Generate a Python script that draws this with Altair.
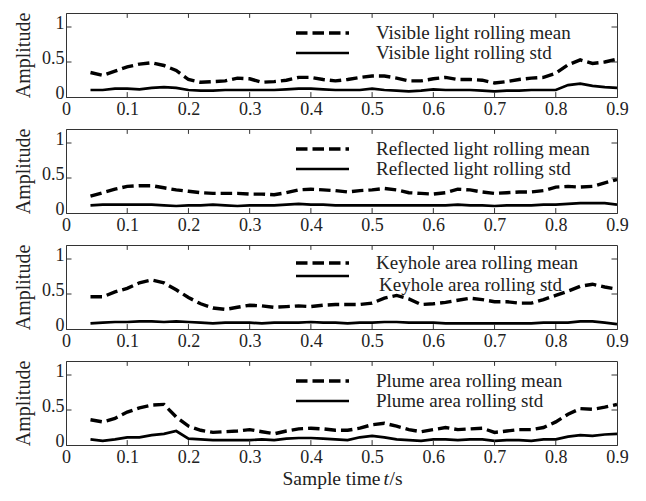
import altair as alt
import pandas as pd

# sample time grid (s)
t_vals = [0.04, 0.06, 0.08, 0.10, 0.12, 0.14, 0.16, 0.18, 0.20, 0.22, 0.24,
          0.26, 0.28, 0.30, 0.32, 0.34, 0.36, 0.38, 0.40, 0.42, 0.44, 0.46,
          0.48, 0.50, 0.52, 0.54, 0.56, 0.58, 0.60, 0.62, 0.64, 0.66, 0.68,
          0.70, 0.72, 0.74, 0.76, 0.78, 0.80, 0.82, 0.84, 0.86, 0.88, 0.90]

visible_mean = [.35, .31, .37, .43, .47, .49, .45, .38, .25, .21, .22, .23, .27, .26, .21,
                .22, .24, .28, .28, .25, .23, .25, .28, .30, .30, .27, .23, .23, .26, .28,
                .25, .25, .24, .20, .22, .25, .27, .28, .34, .46, .53, .48, .50, .54]
visible_std = [.10, .10, .12, .12, .11, .13, .14, .13, .10, .09, .09, .10, .10, .10, .10,
               .10, .11, .12, .12, .11, .10, .10, .10, .12, .10, .09, .08, .09, .11, .10,
               .10, .10, .09, .08, .09, .09, .10, .10, .10, .17, .19, .16, .14, .13]

reflected_mean = [.24, .29, .34, .38, .39, .39, .36, .33, .31, .29, .28, .28, .28, .27, .27,
                  .26, .29, .33, .34, .33, .32, .30, .32, .33, .35, .33, .29, .28, .27, .29,
                  .34, .33, .30, .28, .29, .30, .30, .32, .37, .38, .37, .38, .43, .48]
reflected_std = [.11, .12, .12, .12, .12, .12, .11, .10, .11, .11, .12, .11, .10, .11, .11,
                 .11, .12, .13, .12, .12, .11, .11, .11, .11, .11, .11, .11, .11, .11, .11,
                 .12, .11, .11, .10, .11, .11, .11, .12, .12, .13, .14, .14, .14, .12]

keyhole_mean = [.46, .46, .53, .58, .66, .70, .66, .56, .45, .36, .30, .28, .31, .34, .33,
                .31, .32, .33, .32, .34, .35, .35, .35, .37, .44, .48, .43, .35, .36, .38,
                .41, .44, .42, .39, .39, .37, .37, .42, .48, .54, .61, .64, .60, .57]
keyhole_std = [.08, .09, .10, .10, .11, .11, .10, .11, .10, .09, .08, .09, .09, .09, .08,
               .09, .09, .09, .10, .09, .09, .08, .09, .09, .10, .10, .09, .09, .09, .08,
               .08, .08, .08, .08, .08, .08, .08, .09, .09, .09, .11, .11, .09, .07]

plume_mean = [.36, .33, .38, .47, .53, .57, .58, .40, .27, .21, .18, .19, .20, .22, .19,
              .16, .20, .23, .24, .23, .21, .21, .24, .29, .31, .27, .22, .19, .22, .25,
              .22, .23, .24, .18, .20, .22, .22, .25, .33, .44, .52, .51, .54, .58]
plume_std = [.08, .06, .08, .11, .11, .14, .16, .20, .09, .08, .07, .07, .07, .07, .08,
             .07, .09, .10, .10, .09, .08, .07, .11, .13, .11, .08, .07, .06, .08, .08,
             .07, .08, .08, .06, .07, .07, .06, .08, .08, .12, .14, .13, .15, .16]

mean_labels = ["Visible light rolling mean", "Reflected light rolling mean",
               "Keyhole area rolling mean", "Plume area rolling mean"]
std_labels = ["Visible light rolling std", "Reflected  light rolling std",
              "Keyhole area rolling std", "Plume area rolling std"]
means = [visible_mean, reflected_mean, keyhole_mean, plume_mean]
stds = [visible_std, reflected_std, keyhole_std, plume_std]

x_ticks = [0, 0.1, 0.2, 0.3, 0.4, 0.5, 0.6, 0.7, 0.8, 0.9]
y_ticks = [0, 0.5, 1]

FONT = "Liberation Serif"
INK = "#222"
X_DOM = [0, 0.9]
Y_DOM = [0, 1.2]
W, H = 551, 84
DASH = [11.5, 5]
# legend row offsets (px from panel top): sample mean, sample std, text mean, text std
leg_rows = [(20, 40, 20, 40), (20, 40, 20, 40), (18, 31, 18, 40), (20, 40, 20, 40)]


def one(label):
    return pd.DataFrame({"label": [label]})


def panel(i, last):
    n = len(t_vals)
    df = pd.DataFrame({
        "t": t_vals + t_vals,
        "v": means[i] + stds[i],
        "s": ["mean"] * n + ["std"] * n,
    })
    xs = alt.Scale(domain=X_DOM, nice=False, zero=False)
    ys = alt.Scale(domain=Y_DOM, nice=False)
    x_axis = alt.Axis(values=x_ticks, format="~g", ticks=False, grid=False,
                      title=None, labelFlush=False, labelFontSize=18, labelPadding=3)
    y_axis = alt.Axis(values=y_ticks, format="~g", ticks=False, grid=False,
                      title="Amplitude", labelFontSize=18, titleFontSize=20,
                      titleFontWeight="normal", labelPadding=2, titlePadding=8,
                      labelOffset=-4)
    base = alt.Chart(df).encode(
        x=alt.X("t:Q", scale=xs, axis=x_axis),
        y=alt.Y("v:Q", scale=ys, axis=y_axis),
        order=alt.Order("t:Q"),
    )
    mean_line = base.transform_filter(alt.datum.s == "mean").mark_line(
        color="black", strokeWidth=3.4, strokeDash=DASH, clip=True)
    std_line = base.transform_filter(alt.datum.s == "std").mark_line(
        color="black", strokeWidth=2.7, clip=True)

    # inward tick marks (MATLAB style)
    inner = [v for v in x_ticks if 0 < v < 0.9]
    tx = pd.DataFrame({"x": inner * 2,
                       "y": [0.0] * len(inner) + [1.2] * len(inner),
                       "y2": [0.07] * len(inner) + [1.13] * len(inner)})
    ty_vals = [v for v in y_ticks if v > 0]
    ty = pd.DataFrame({"y": ty_vals * 2,
                       "x": [0.0] * len(ty_vals) + [0.9] * len(ty_vals),
                       "x2": [0.009] * len(ty_vals) + [0.891] * len(ty_vals)})
    xt = alt.Chart(tx).mark_rule(color="#333", strokeWidth=1).encode(
        x=alt.X("x:Q", scale=xs), y=alt.Y("y:Q", scale=ys), y2="y2:Q")
    yt = alt.Chart(ty).mark_rule(color="#333", strokeWidth=1).encode(
        x=alt.X("x:Q", scale=xs), x2="x2:Q", y=alt.Y("y:Q", scale=ys))

    # legend (drawn inside the axes box, like the original)
    r1, r2, tr1, tr2 = leg_rows[i]
    lx0, lx1, tx0 = 230, 283, 310
    leg_mean = alt.Chart(one(mean_labels[i])).mark_rule(
        color="black", strokeWidth=3.4, strokeDash=DASH).encode(
        x=alt.value(lx0), x2=alt.value(lx1), y=alt.value(r1))
    leg_std = alt.Chart(one(std_labels[i])).mark_rule(
        color="black", strokeWidth=2.7).encode(
        x=alt.value(lx0), x2=alt.value(lx1), y=alt.value(r2))
    txt_mean = alt.Chart(one(mean_labels[i])).mark_text(
        font=FONT, fontSize=19, align="left", baseline="middle", color=INK).encode(
        text="label:N", x=alt.value(tx0), y=alt.value(tr1))
    txt_std = alt.Chart(one(std_labels[i])).mark_text(
        font=FONT, fontSize=19, align="left", baseline="middle", color=INK).encode(
        text="label:N", x=alt.value(tx0 + (3 if i == 2 else 0)), y=alt.value(tr2))

    layers = [mean_line, std_line, xt, yt, leg_mean, leg_std, txt_mean, txt_std]
    if last:
        # x title: "Sample time t/s" with italic t
        ty0 = H + 34
        cx = W / 2 - 59
        layers += [
            alt.Chart(one("Sample time")).mark_text(
                font=FONT, fontSize=19.5, align="left", baseline="middle", color=INK).encode(
                text="label:N", x=alt.value(cx), y=alt.value(ty0)),
            alt.Chart(one("t")).mark_text(
                font=FONT, fontSize=19.5, fontStyle="italic", align="left",
                baseline="middle", color=INK).encode(
                text="label:N", x=alt.value(cx + 101), y=alt.value(ty0)),
            alt.Chart(one("/s")).mark_text(
                font=FONT, fontSize=19.5, align="left", baseline="middle", color=INK).encode(
                text="label:N", x=alt.value(cx + 107), y=alt.value(ty0)),
        ]
    return alt.layer(*layers).properties(width=W, height=H)


chart = alt.vconcat(*[panel(i, i == 3) for i in range(4)], spacing=8).properties(
    padding={"left": 5, "top": 3, "right": 5, "bottom": 0}
).configure_view(stroke="#333", strokeWidth=1).configure_axis(
    labelFont=FONT, titleFont=FONT, labelColor=INK, titleColor=INK,
    domainColor="#333", domainWidth=1
)

chart.save("out.html", embed_options={"renderer": "svg", "actions": False})
